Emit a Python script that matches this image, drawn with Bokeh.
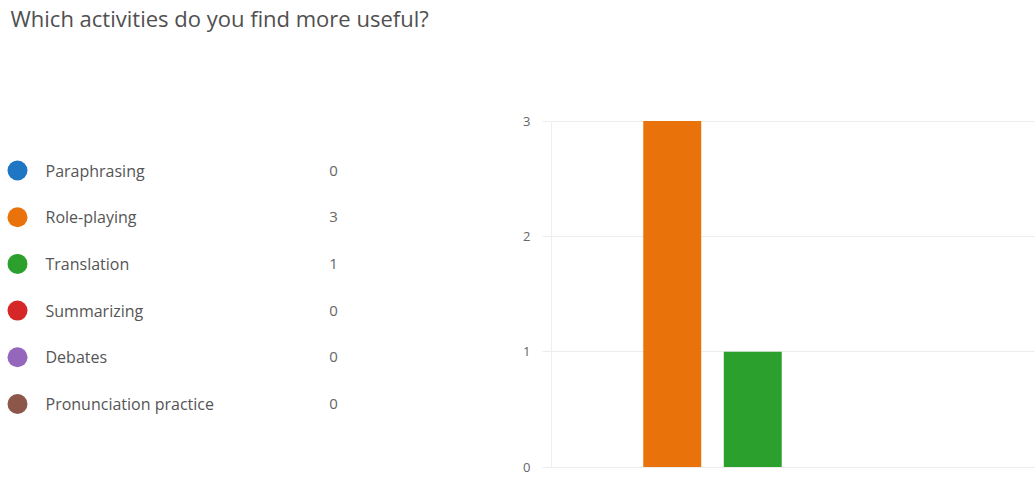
from bokeh.plotting import figure
from bokeh.layouts import row
from bokeh.models import Range1d, FactorRange, FixedTicker, ColumnDataSource, Label
from bokeh.core.properties import value
from bokeh.embed import file_html
from bokeh.resources import INLINE

# Survey results
question = "Which activities do you find more useful?"
activities = ["Paraphrasing", "Role-playing", "Translation", "Summarizing",
              "Debates", "Pronunciation practice"]
responses = [0, 3, 1, 0, 0, 0]
colors = ["#1f77c4", "#ea720b", "#2ca02c", "#d62728", "#9467bd", "#8c564b"]
y_ticks = [0, 1, 2, 3]

FONT = "Open Sans"
TEXT_COLOR = "#555555"

# Both panels use the full page height as their frame; ranges are chosen so
# list rows are ~47px apart and one response unit is ~115px tall.
ROW_STEP = 46.7
ROW0 = 170.0
H = 488

# ---- left panel: question and legend list with counts ----
left = figure(width=500, height=H, output_backend="svg", toolbar_location=None,
              x_range=Range1d(0, 500),
              y_range=Range1d((H - ROW0) / ROW_STEP, -ROW0 / ROW_STEP),
              min_border=0, outline_line_color=None)
left.axis.visible = False
left.grid.visible = False

# question heading near the top-left corner
left.add_layout(Label(x=10, y=(17 - ROW0) / ROW_STEP, text=question,
                      text_font=FONT, text_font_size="22px",
                      text_color="#505050", text_baseline="middle"))

idx = list(range(len(activities)))
src = ColumnDataSource(dict(
    y=idx,
    name=activities,
    count=[str(v) for v in responses],
    color=colors,
    dot_x=[17] * len(idx),
    label_x=[45] * len(idx),
    count_x=[333] * len(idx),
))
left.scatter(x="dot_x", y="y", size=20, color="color", line_color=None, source=src)
left.text(x="label_x", y="y", text="name", source=src, text_font=value(FONT),
          text_font_size="16px", text_color=TEXT_COLOR, text_baseline="middle")
left.text(x="count_x", y="y", text="count", source=src, text_font=value(FONT),
          text_font_size="15px", text_color="#666666", text_baseline="middle",
          text_align="center")

# ---- right panel: bar chart ----
UNIT = 115.33
BASE = 466.5
right = figure(width=536, height=H, output_backend="svg", toolbar_location=None,
               x_range=FactorRange(*activities),
               y_range=Range1d((BASE - H) / UNIT, BASE / UNIT),
               min_border_left=51, min_border_right=2, min_border_top=0,
               min_border_bottom=0, outline_line_color=None)
right.vbar(x=activities, top=responses, width=0.72, color=colors, line_color=None)

right.xaxis.visible = False
right.xgrid.visible = False
right.ygrid.grid_line_color = "#ececec"
right.yaxis.ticker = FixedTicker(ticks=y_ticks)
right.yaxis.bounds = (min(y_ticks), max(y_ticks))
right.yaxis.axis_line_color = "#efefef"
right.yaxis.major_tick_line_color = "#ececec"
right.yaxis.major_tick_out = 9
right.yaxis.major_tick_in = 0
right.yaxis.minor_tick_line_color = None
right.yaxis.major_label_standoff = 12
right.yaxis.major_label_text_font = FONT
right.yaxis.major_label_text_font_size = "13px"
right.yaxis.major_label_text_color = "#666666"

layout = row(left, right, spacing=0)
open("out.html", "w").write(file_html(layout, INLINE))
